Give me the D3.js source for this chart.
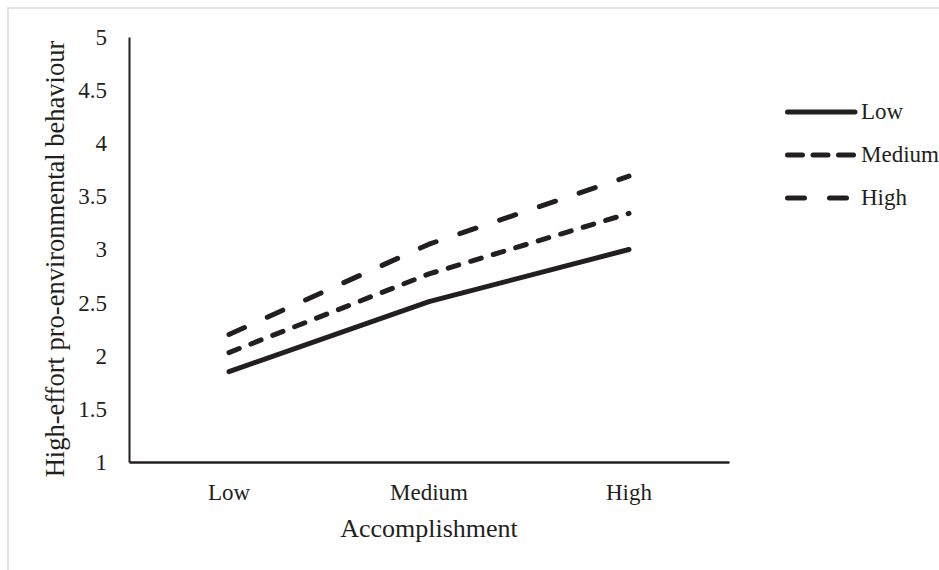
<!DOCTYPE html>
<html>
<head>
<meta charset="utf-8">
<script src="https://cdn.jsdelivr.net/npm/d3@7"></script>
<style>
  html, body { margin: 0; padding: 0; background: #fff; }
  svg { display: block; }
  text { font-family: "Liberation Serif", "Times New Roman", serif; fill: #231f20; }
</style>
</head>
<body>
<svg id="chart" width="939" height="570"></svg>
<script>
const categories = ["Low", "Medium", "High"];
const seriesNames = ["Low", "Medium", "High"];
const lowValues = [1.85, 2.51, 3.00];
const mediumValues = [2.03, 2.77, 3.34];
const highValues = [2.20, 3.05, 3.69];
const yTicks = [1, 1.5, 2, 2.5, 3, 3.5, 4, 4.5, 5];
const xTitle = "Accomplishment";
const yTitle = "High-effort pro-environmental behaviour";

const series = [
  { name: seriesNames[0], values: lowValues, dash: null },
  { name: seriesNames[1], values: mediumValues, dash: "11,12.5" },
  { name: seriesNames[2], values: highValues, dash: "17,25" }
];

const ink = "#231f20";
const serif = "'Liberation Serif', 'Times New Roman', serif";
const svg = d3.select("#chart");

// light frame
svg.append("rect").attr("x", 8).attr("y", 8).attr("width", 1000).attr("height", 1000)
  .attr("fill", "none").attr("stroke", "#e2e2e2").attr("stroke-width", 2);

const x = d3.scaleBand().domain(categories).range([129, 729]);
const y = d3.scaleLinear().domain([1, 5]).range([462, 37]);
const cx = c => x(c) + x.bandwidth() / 2;

// Y axis
const yAxis = svg.append("g").attr("transform", "translate(129,0)")
  .call(d3.axisLeft(y).tickValues(yTicks).tickSize(0).tickPadding(22).tickFormat(d3.format("")));
yAxis.attr("font-family", serif).attr("font-size", 23);
yAxis.select(".domain").attr("stroke", ink).attr("stroke-width", 2);
yAxis.selectAll("text").attr("fill", ink);

// X axis
const xAxis = svg.append("g").attr("transform", "translate(0,462)")
  .call(d3.axisBottom(x).tickSize(0).tickPadding(0));
xAxis.attr("font-family", serif).attr("font-size", 23);
xAxis.select(".domain").attr("stroke", ink).attr("stroke-width", 2.5);
xAxis.selectAll("text").attr("fill", ink).attr("y", 38).attr("dy", 0);

// Titles
svg.append("text").attr("x", 429).attr("y", 537).attr("text-anchor", "middle")
  .attr("font-family", serif).attr("font-size", 26).text(xTitle);
svg.append("text").attr("transform", "translate(64,259) rotate(-90)")
  .attr("text-anchor", "middle").attr("font-family", serif).attr("font-size", 26.5).text(yTitle);

// Lines
const line = d3.line().x((d, i) => cx(categories[i])).y(d => y(d));
series.forEach(s => {
  svg.append("path").datum(s.values).attr("d", line)
    .attr("fill", "none").attr("stroke", ink).attr("stroke-width", 5)
    .attr("stroke-linecap", "round").attr("stroke-linejoin", "round")
    .attr("stroke-dasharray", s.dash);
});

// Legend
const legendY = [112, 155, 198];
const legendDash = [null, "15,10.5", "17,25"];
series.forEach((s, i) => {
  const g = svg.append("g");
  g.append("line").attr("x1", 787.5).attr("x2", 855).attr("y1", legendY[i]).attr("y2", legendY[i])
    .attr("stroke", ink).attr("stroke-width", 5).attr("stroke-linecap", "round")
    .attr("stroke-dasharray", legendDash[i]);
  g.append("text").attr("x", 861).attr("y", legendY[i] + 7)
    .attr("font-family", serif).attr("font-size", 23).text(s.name);
});
</script>
</body>
</html>
